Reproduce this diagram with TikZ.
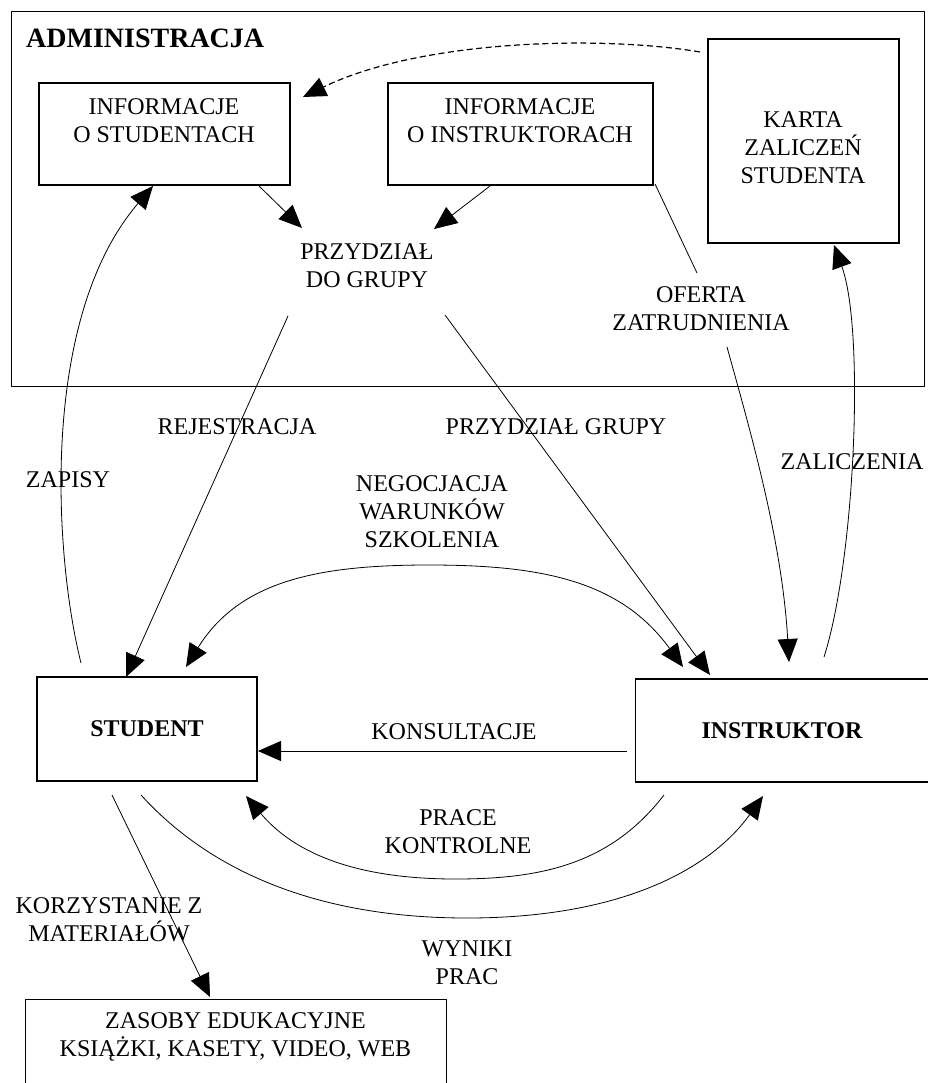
\documentclass[tikz,border=0pt]{standalone}
\usepackage{fontspec}
\setmainfont{Liberation Serif}
\usetikzlibrary{arrows.meta,calc}

\begin{document}
\begin{tikzpicture}[x=1pt,y=-1pt,
  box/.style={draw,line width=1.1pt,inner sep=0pt},
  lbl/.style={font=\fontsize{24}{28}\selectfont,align=center,inner sep=0pt},
  heavy/.style={font=\fontsize{24}{28}\selectfont\bfseries,inner sep=0pt},
  flow/.style={line width=0.8pt,-{Triangle[length=23pt,width=20pt]}},
  twoway/.style={line width=0.8pt,{Triangle[length=23pt,width=20pt]}-{Triangle[length=23pt,width=20pt]}},
  plain/.style={line width=0.8pt},
  dashflow/.style={line width=1.2pt,dash pattern=on 6pt off 3.5pt,-{Triangle[length=23pt,width=20pt]}}]

\useasboundingbox (0,0) rectangle (927,1083);

% --- administration area ---
\node[box,minimum width=913pt,minimum height=375pt,anchor=north west] (admin) at (10.5,11) {};
\node[font=\fontsize{28}{33}\selectfont\bfseries,inner sep=0pt,anchor=west] (admtitle) at (26,38) {ADMINISTRACJA};

\node[box,minimum width=251pt,minimum height=102pt] (istud) at (164.5,134) {};
\node[lbl] (istudtxt) at (164,120.5) {INFORMACJE\\O STUDENTACH};

\node[box,minimum width=265pt,minimum height=102pt] (iinstr) at (520.5,134) {};
\node[lbl] (iinstrtxt) at (520,120.5) {INFORMACJE\\O INSTRUKTORACH};

\node[box,minimum width=191pt,minimum height=204pt] (karta) at (803.5,141) {};
\node[lbl] (kartatxt) at (803,148) {KARTA\\ZALICZEŃ\\STUDENTA};

\node[lbl] (przydzial) at (367,266) {PRZYDZIAŁ\\DO GRUPY};
\node[lbl] (oferta) at (701,309) {OFERTA\\ZATRUDNIENIA};

% --- actors and resources ---
\node[box,minimum width=220pt,minimum height=104pt] (student) at (147,729) {};
\node[heavy] (studenttxt) at (147,729) {STUDENT};

\node[box,minimum width=304pt,minimum height=103pt,anchor=west] (instr) at (634.5,730.5) {};
\node[heavy] (instrtxt) at (782,731) {INSTRUKTOR};

\node[box,minimum width=421pt,minimum height=110pt,anchor=north west] (zasoby) at (25,999) {};
\node[lbl] (zasobytxt) at (235.5,1036.5) {ZASOBY EDUKACYJNE\\KSIĄŻKI, KASETY, VIDEO, WEB};

% --- flow labels ---
\node[lbl] (lrej) at (237,427) {REJESTRACJA};
\node[lbl] (lprzg) at (556,427) {PRZYDZIAŁ GRUPY};
\node[lbl] (lzap) at (68,480) {ZAPISY};
\node[lbl] (lzal) at (852,462) {ZALICZENIA};
\node[lbl] (lneg) at (432,511.5) {NEGOCJACJA\\WARUNKÓW\\SZKOLENIA};
\node[lbl] (lkons) at (454,732) {KONSULTACJE};
\node[lbl] (lprace) at (458,831.5) {PRACE\\KONTROLNE};
\node[lbl] (lkorz) at (109,920) {KORZYSTANIE Z\\MATERIAŁÓW};
\node[lbl] (lwyn) at (467,962.5) {WYNIKI\\PRAC};

% --- connector end points ---
\coordinate (dashS) at (700,52);
\coordinate (dashE) at (303,97);
\coordinate (isOut) at (259,186);
\coordinate (iiOut) at (490,186);
\coordinate (pIn1) at (302,228);
\coordinate (pIn2) at (434,229);
\coordinate (ofA) at (655,184);
\coordinate (ofB) at (697,273);
\coordinate (ofC) at (727,347);
\coordinate (ofD) at (789,662);
\coordinate (zalS) at (824,657);
\coordinate (zalE) at (834,245);
\coordinate (zapS) at (81,663);
\coordinate (zapE) at (153,186);
\coordinate (rejS) at (288,316);
\coordinate (rejE) at (126,677);
\coordinate (prgS) at (445,315);
\coordinate (prgE) at (710,675);
\coordinate (negL) at (186,667);
\coordinate (negR) at (683,667);
\coordinate (konS) at (627,751);
\coordinate (konE) at (258,751);
\coordinate (prS) at (664,795);
\coordinate (prE) at (246,796);
\coordinate (wyS) at (141,795);
\coordinate (wyE) at (763,796);
\coordinate (koS) at (112,795);
\coordinate (koE) at (210,997);

% --- connectors ---
\draw[dashflow] (dashS) .. controls (600,35) and (420,40) .. (dashE);
\draw[flow] (isOut) -- (pIn1);
\draw[flow] (iiOut) -- (pIn2);
\draw[plain] (ofA) -- (ofB);
\draw[flow] (ofC) .. controls (750,430) and (782,540) .. (ofD);
\draw[flow] (zalS) .. controls (855,560) and (865,330) .. (zalE);
\draw[flow] (zapS) .. controls (55,560) and (38,320) .. (zapE);
\draw[flow] (rejS) -- (rejE);
\draw[flow] (prgS) -- (prgE);
\draw[twoway] (negL) .. controls (240,580) and (320,565) .. (429,565)
                     .. controls (540,565) and (620,580) .. (negR);
\draw[flow] (konS) -- (konE);
\draw[flow] (prS) .. controls (610,865) and (540,879) .. (455,879)
                  .. controls (370,879) and (300,860) .. (prE);
\draw[flow] (wyS) .. controls (200,860) and (300,918) .. (467,918)
                  .. controls (620,918) and (710,870) .. (wyE);
\draw[flow] (koS) -- (koE);
\end{tikzpicture}
\end{document}
